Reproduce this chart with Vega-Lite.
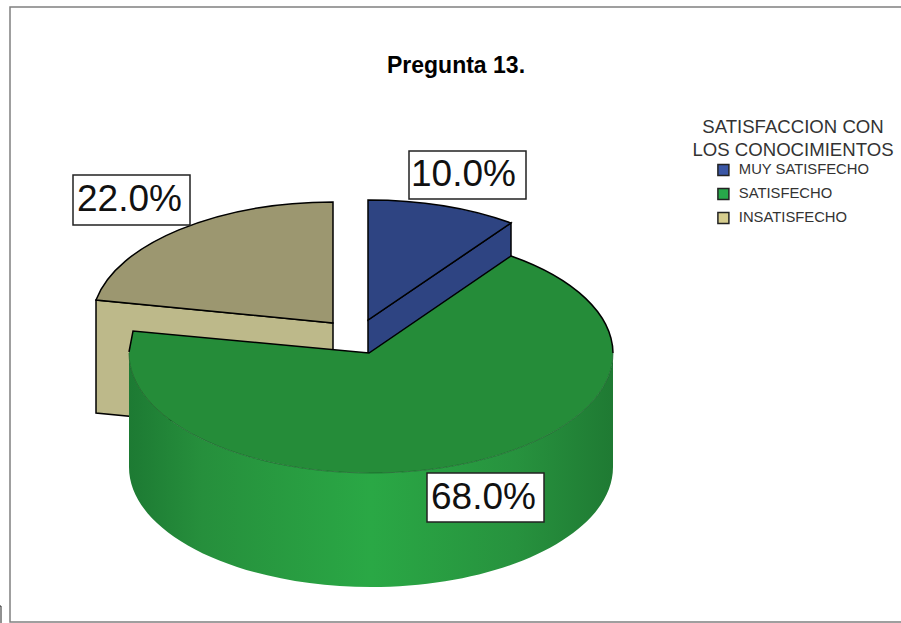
{
"$schema":"https://vega.github.io/schema/vega-lite/v6.json",
"width":901,"height":623,"padding":0,"autosize":{"type":"none"},
"background":"white",
"config":{"view":{"stroke":null},"font":"Liberation Sans"},
"title":{"text":"Pregunta 13.","font":"Liberation Sans","fontSize":23,"fontWeight":"bold","color":"black","anchor":"middle","dx":5.5,"offset":-89,"baseline":"middle"},
"data":{"values":[
{"categoria":"MUY SATISFECHO","proporcion":0.10},
{"categoria":"SATISFECHO","proporcion":0.68},
{"categoria":"INSATISFECHO","proporcion":0.22}
]},
"layer":[
{"mark":{"type":"point","filled":true,"size":1,"opacity":1},
 "encoding":{"color":{"field":"categoria","type":"nominal",
  "scale":{"domain":["MUY SATISFECHO","SATISFECHO","INSATISFECHO"],"range":["#3a56a5","#27a84a","#d6cd8e"]},
  "legend":{"orient":"none","legendX":692,"legendY":118,"title":["SATISFACCION CON","LOS CONOCIMIENTOS"],"titleFont":"Liberation Sans","titleFontSize":18.6,"titleFontWeight":"normal","titleColor":"#333333","titleLineHeight":23,"titleLimit":400,"titleAnchor":"middle","titleAlign":"center","titlePadding":3,"labelFont":"Liberation Sans","labelFontSize":14.8,"labelLimit":300,"labelColor":"#333333","symbolType":"square","symbolSize":121,"symbolStrokeColor":"#222222","symbolStrokeWidth":1.5,"rowPadding":6,"labelOffset":8}}}},
{"transform":[{"filter":"datum.categoria==='MUY SATISFECHO'"}],"mark":{"type":"point","size":4,"filled":false,"opacity":1,"stroke":"#808080","strokeWidth":1.5,"shape":"M-440.5,310.5 L-440.5,-304.5 L454.5,-304.5 L454.5,310.5 Z"}},
{"transform":[{"filter":"datum.categoria==='MUY SATISFECHO'"}],"mark":{"type":"point","size":4,"filled":false,"opacity":1,"stroke":"#222222","strokeWidth":1,"shape":"M-450.5,294.5 L-449.5,294.5 L-449.5,311.5"}},
{"transform":[{"filter":"datum.categoria==='INSATISFECHO'"}],"mark":{"type":"point","size":4,"filled":true,"opacity":1,"fill":"#bdb98a","stroke":"black","strokeWidth":1.5,"shape":"M-354.5,-11.5 L-354.5,101.5 L-117.5,124.5 L-117.5,11.5 Z"}},
{"transform":[{"filter":"datum.categoria==='INSATISFECHO'"}],"mark":{"type":"point","size":4,"filled":true,"opacity":1,"fill":"#9c9770","stroke":"black","strokeWidth":1.5,"shape":"M-117.5,11.5 L-354.5,-11.5 A242,120 0 0 1 -117.5,-109.5 Z"}},
{"transform":[{"filter":"datum.categoria==='MUY SATISFECHO'"}],"mark":{"type":"point","size":4,"filled":true,"opacity":1,"fill":"#2e4482","stroke":"black","strokeWidth":1.5,"shape":"M-82.5,8.5 L60.5,-88.5 L60.5,28.5 L-82.5,125.5 Z"}},
{"transform":[{"filter":"datum.categoria==='MUY SATISFECHO'"}],"mark":{"type":"point","size":4,"filled":true,"opacity":1,"fill":"#2e4482","stroke":"black","strokeWidth":1.5,"shape":"M-82.5,8.5 L-82.5,-111.5 A242,120 0 0 1 60.5,-88.5 Z"}},
{"transform":[{"filter":"datum.categoria==='SATISFECHO'"}],"mark":{"type":"point","size":4,"filled":true,"opacity":1,"strokeWidth":0,"fill":{"gradient":"linear","x1":0,"y1":0,"x2":1,"y2":0,"stops":[{"offset":0,"color":"#1d7a33"},{"offset":0.15,"color":"#268f3c"},{"offset":0.5,"color":"#2aa845"},{"offset":0.8,"color":"#27923e"},{"offset":1,"color":"#1f7a33"}]},"shape":"M162.5,41.5 L162.5,155.5 A242,120 0 0 1 -321.5,155.5 L-321.5,41.5 A242,120 0 0 0 162.5,41.5 Z"}},
{"transform":[{"filter":"datum.categoria==='SATISFECHO'"}],"mark":{"type":"point","size":4,"filled":true,"opacity":1,"strokeWidth":0,"fill":"#258c39","shape":"M-81.5,41.5 L60.5,-55.5 A242,120 0 0 1 162.5,41.5 A242,120 0 0 1 -321.5,41.5 L-317.5,19.5 Z"}},
{"transform":[{"filter":"datum.categoria==='SATISFECHO'"}],"mark":{"type":"point","size":4,"filled":false,"opacity":1,"stroke":"#1a5e2a","strokeWidth":0.7,"shape":"M162.5,41.5 A242,120 0 0 1 -321.5,41.5"}},
{"transform":[{"filter":"datum.categoria==='SATISFECHO'"}],"mark":{"type":"point","size":4,"filled":false,"opacity":1,"stroke":"black","strokeWidth":1.5,"shape":"M-321.5,40.5 L-317.5,19.5 L-81.5,41.5 L60.5,-55.5 A242,120 0 0 1 162.5,41.5"}},
{"transform":[{"filter":"datum.categoria==='MUY SATISFECHO'"}],"mark":{"type":"point","size":4,"filled":true,"opacity":1,"fill":"white","stroke":"#222222","strokeWidth":1.5,"shape":"M-41.5,-160.5 L75.5,-160.5 L75.5,-112.5 L-41.5,-112.5 Z"}},
{"transform":[{"filter":"datum.categoria==='SATISFECHO'"}],"mark":{"type":"point","size":4,"filled":true,"opacity":1,"fill":"white","stroke":"#222222","strokeWidth":1.5,"shape":"M-23.5,161.5 L93.5,161.5 L93.5,210.5 L-23.5,210.5 Z"}},
{"transform":[{"filter":"datum.categoria==='INSATISFECHO'"}],"mark":{"type":"point","size":4,"filled":true,"opacity":1,"fill":"white","stroke":"#222222","strokeWidth":1.5,"shape":"M-377.5,-136.5 L-260.5,-136.5 L-260.5,-86.5 L-377.5,-86.5 Z"}},
{"transform":[{"filter":"datum.categoria==='MUY SATISFECHO'"}],"mark":{"type":"text","font":"Liberation Sans","fontSize":37,"color":"#111111","baseline":"middle","align":"center","dx":13,"dy":-136.5},"encoding":{"text":{"field":"proporcion","type":"quantitative","format":".1%"}}},
{"transform":[{"filter":"datum.categoria==='SATISFECHO'"}],"mark":{"type":"text","font":"Liberation Sans","fontSize":37,"color":"#111111","baseline":"middle","align":"center","dx":33,"dy":186},"encoding":{"text":{"field":"proporcion","type":"quantitative","format":".1%"}}},
{"transform":[{"filter":"datum.categoria==='INSATISFECHO'"}],"mark":{"type":"text","font":"Liberation Sans","fontSize":37,"color":"#111111","baseline":"middle","align":"center","dx":-321,"dy":-111.5},"encoding":{"text":{"field":"proporcion","type":"quantitative","format":".1%"}}}
]
}
